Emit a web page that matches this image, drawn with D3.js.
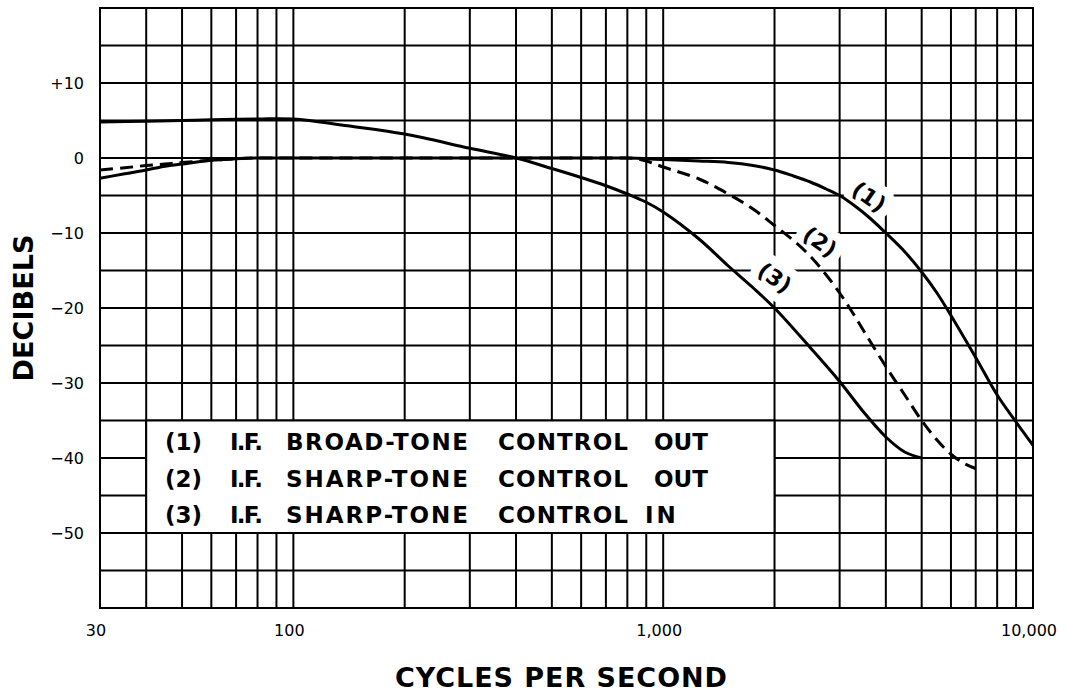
<!DOCTYPE html>
<html><head><meta charset="utf-8">
<script src="https://cdn.jsdelivr.net/npm/d3@7"></script>
<style>html,body{margin:0;padding:0;background:#fff}svg{display:block}</style>
</head><body>
<svg id="chart" width="1067" height="692"></svg>
<script>
// ---------- data ----------
const gridFreqs = [30,40,50,60,70,80,90,100,200,300,400,500,600,700,800,900,1000,2000,3000,4000,5000,6000,7000,8000,9000,10000];
const gridDb = [20,15,10,5,0,-5,-10,-15,-20,-25,-30,-35,-40,-45,-50,-55,-60];
const xTickValues = [30,100,1000,10000];
const xTickLabels = ["30","100","1,000","10,000"];
const yTickValues = [10,0,-10,-20,-30,-40,-50];
const yTickLabels = ["+10","0","\u221210","\u221220","\u221230","\u221240","\u221250"];

// (1) I.F. broad-tone control out (solid)
const broadOutFreq = [30,35,40,45,50,60,70,80,100,150,200,300,400,500,600,700,800,1000,1250,1500,1750,2000,2250,2500,2750,3000,3300,3600,4000,4500,5000,5500,6000,7000,8000,9000,10000];
const broadOutDb   = [-2.7,-2.1,-1.6,-1.1,-0.8,-0.3,-0.1,0,0,0,0,0,0,0,0,0,0,-0.2,-0.4,-0.6,-1.0,-1.6,-2.4,-3.2,-4.1,-5.0,-6.4,-7.9,-10.0,-12.5,-15.2,-18.0,-21.0,-26.6,-31.6,-35.2,-38.3];
// (2) I.F. sharp-tone control out (dashed)
const sharpOutFreq = [30,35,40,45,50,60,70,80,100,200,400,700,800,850,900,1000,1250,1500,1750,2000,2250,2500,2750,3000,3250,3500,4000,4500,5000,5500,6000,6500,7000];
const sharpOutDb   = [-1.6,-1.3,-1.0,-0.8,-0.6,-0.3,-0.1,0,0,0,0,0,0,-0.1,-0.4,-1.2,-2.8,-4.8,-6.8,-9.0,-11.0,-13.1,-15.5,-18.0,-20.6,-23.2,-27.8,-31.6,-35.0,-37.6,-39.5,-40.7,-41.4];
// (3) I.F. sharp-tone control in (solid)
const sharpInFreq = [30,40,50,60,80,100,140,200,300,400,500,600,700,800,900,1000,1250,1500,1750,2000,2500,3000,3500,4000,4500,5000];
const sharpInDb   = [4.8,4.9,5.0,5.1,5.2,5.2,4.3,3.2,1.3,0,-1.4,-2.6,-3.7,-4.8,-5.9,-7.2,-10.8,-14.4,-17.3,-20,-25.3,-29.8,-34,-37.2,-39.2,-40];

const curveLabels = ["(1)","(2)","(3)"];
const curveLabelFreq = [3600, 2650, 2000];
const curveLabelDb = [-5.2, -11.2, -16];

const legendNums = ["(1)","(2)","(3)"];
const legendIF = ["I.F.","I.F.","I.F."];
const legendType = ["BROAD-TONE","SHARP-TONE","SHARP-TONE"];
const legendWord = ["CONTROL","CONTROL","CONTROL"];
const legendState = ["OUT","OUT","IN"];
const legendBoxFreq = [40, 2000];
const legendBoxDb = [-35, -50];

// ---------- layout ----------
const svg = d3.select("#chart");
const x = d3.scaleLog().domain([30,10000]).range([100,1033]);
const y = d3.scaleLinear().domain([-60,20]).range([608,8]);
const FONT = "'DejaVu Sans', 'Liberation Sans', sans-serif";

const gGrid = svg.append("g");
gGrid.selectAll("line.v").data(gridFreqs).join("line")
  .attr("x1", d => x(d)).attr("x2", d => x(d))
  .attr("y1", y(20)).attr("y2", y(-60))
  .attr("stroke", "#000").attr("stroke-width", 2);
gGrid.selectAll("line.h").data(gridDb).join("line")
  .attr("x1", x(30)-1).attr("x2", x(10000)+1)
  .attr("y1", d => y(d)).attr("y2", d => y(d))
  .attr("stroke", "#000").attr("stroke-width", 2);

// legend box (clears grid)
svg.append("rect")
  .attr("x", x(legendBoxFreq[0])).attr("y", y(legendBoxDb[0]))
  .attr("width", x(legendBoxFreq[1]) - x(legendBoxFreq[0]))
  .attr("height", y(legendBoxDb[1]) - y(legendBoxDb[0]))
  .attr("fill", "#fff").attr("stroke", "#000").attr("stroke-width", 2);

// knockouts behind curve labels
const labelSel = (g) => g.selectAll("text").data(curveLabels).join("text")
  .attr("transform", (d,i) => `translate(${x(curveLabelFreq[i])},${y(curveLabelDb[i])}) rotate(35)`)
  .attr("text-anchor", "middle").attr("dominant-baseline", "central")
  .attr("font-family", FONT).attr("font-weight", "bold").attr("font-size", 22)
  .text(d => d);
svg.append("g").call(labelSel).attr("fill", "#fff").attr("stroke", "#fff")
  .attr("stroke-width", 18).attr("stroke-linejoin", "round");

// curves
const line = d3.line().x(d => x(d[0])).y(d => y(d[1])).curve(d3.curveCatmullRom.alpha(0.5));
const series = [
  {f: broadOutFreq, v: broadOutDb, dash: null},
  {f: sharpOutFreq, v: sharpOutDb, dash: "13,7"},
  {f: sharpInFreq, v: sharpInDb, dash: null}
];
svg.append("g").selectAll("path").data(series).join("path")
  .attr("d", s => line(s.f.map((f,i) => [f, s.v[i]])))
  .attr("fill", "none").attr("stroke", "#000").attr("stroke-width", 3)
  .attr("stroke-linecap", "butt")
  .attr("stroke-dasharray", s => s.dash);

// curve labels
svg.append("g").call(labelSel).attr("fill", "#000");

// legend text
const legendCols = [
  {arr: legendNums, x: [165,165,165], w: [37,37,37]},
  {arr: legendIF, x: [230,230,230], w: [33,33,33]},
  {arr: legendType, x: [286,286,286], w: [182,182,182]},
  {arr: legendWord, x: [498,498,498], w: [130,130,130]},
  {arr: legendState, x: [654,654,645], w: [54,54,null]}
];
const legendBase = [450, 487, 523];
const gLeg = svg.append("g").attr("font-family", FONT).attr("font-weight", "bold").attr("font-size", 23).attr("fill", "#000");
legendCols.forEach(c => {
  c.arr.forEach((t, i) => {
    const tx = gLeg.append("text")
      .attr("x", c.x[i])
      .attr("y", legendBase[i])
      .text(t);
    if (c.w[i]) tx.attr("textLength", c.w[i]).attr("lengthAdjust", "spacing");
    else tx.attr("letter-spacing", 3);
  });
});

// tick labels
svg.append("g").selectAll("text").data(yTickValues).join("text")
  .attr("x", 84).attr("y", d => y(d)).attr("dy", "0.36em")
  .attr("text-anchor", "end").attr("font-family", FONT).attr("font-size", 16)
  .text((d,i) => yTickLabels[i]);
svg.append("g").selectAll("text").data(xTickValues).join("text")
  .attr("x", d => x(d) - 4).attr("y", 636)
  .attr("text-anchor", "middle").attr("font-family", FONT).attr("font-size", 16)
  .text((d,i) => xTickLabels[i]);

// axis titles
svg.append("text")
  .attr("transform", "translate(33,308) rotate(-90)")
  .attr("text-anchor", "middle").attr("font-family", FONT).attr("font-weight", "bold")
  .attr("font-size", 27).attr("textLength", 147).attr("lengthAdjust", "spacing")
  .text("DECIBELS");
svg.append("text")
  .attr("x", 561).attr("y", 687)
  .attr("text-anchor", "middle").attr("font-family", FONT).attr("font-weight", "bold")
  .attr("font-size", 27).attr("textLength", 332).attr("lengthAdjust", "spacing")
  .text("CYCLES PER SECOND");
</script>
</body></html>
